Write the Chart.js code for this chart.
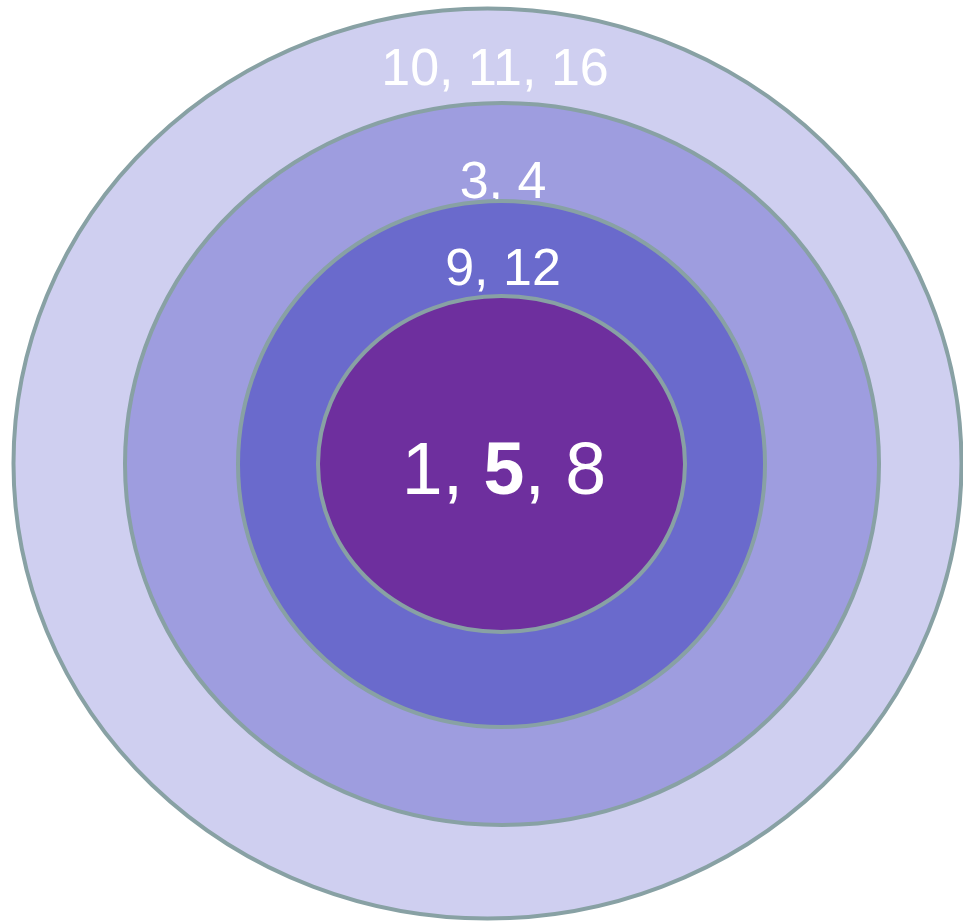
<!DOCTYPE html>
<html>
<head>
<meta charset="utf-8">
<script src="https://cdn.jsdelivr.net/npm/chart.js@4"></script>
<style>
html,body{margin:0;padding:0;background:#fff;}
#wrap{width:963px;height:922px;position:relative;}
</style>
</head>
<body>
<div id="wrap"><canvas id="c" width="963" height="922"></canvas></div>
<script>
// Rings, outermost first
const ringLabels = [["10, 11, 16"], ["3, 4"], ["9, 12"], ["1, ", "5", ", 8"]];
const ringCenterX = [487.5, 502, 501.5, 501.5];
const ringCenterY = [463.5, 464, 464, 464];
const ringRadiusX = [474, 377, 263.5, 183.5];
const ringRadiusY = [455, 361, 263, 168];
const labelX = [495, 503, 503, 504];
const labelY = [85, 198, 285, 494];
const labelBold = [[false], [false], [false], [false, true, false]];
const labelSize = [52, 52, 52, 73.5];
const ringColors = ["#cfcff0", "#9e9ddf", "#6a6acc", "#6e2f9e"];
const strokeColor = "#88a1a4";

const ringPlugin = {
  id: 'rings',
  beforeDatasetsDraw(chart) {
    const ctx = chart.ctx, xs = chart.scales.x, ys = chart.scales.y;
    ctx.save();
    for (let i = 0; i < ringCenterX.length; i++) {
      const cx = xs.getPixelForValue(ringCenterX[i]);
      const cy = ys.getPixelForValue(ringCenterY[i]);
      const rx = Math.abs(xs.getPixelForValue(ringCenterX[i] + ringRadiusX[i]) - cx);
      const ry = Math.abs(ys.getPixelForValue(ringCenterY[i] + ringRadiusY[i]) - cy);
      ctx.beginPath();
      ctx.ellipse(cx, cy, rx, ry, 0, 0, Math.PI * 2);
      ctx.fillStyle = ringColors[i];
      ctx.fill();
      ctx.lineWidth = 4;
      ctx.strokeStyle = strokeColor;
      ctx.stroke();

      // label of this ring (drawn before the next inner ring so it may be overlapped)
      const parts = ringLabels[i];
      const fonts = parts.map((p, j) => (labelBold[i][j] ? 'bold ' : '') + labelSize[i] + 'px "Liberation Sans", Arial, sans-serif');
      let total = 0;
      const widths = parts.map((p, j) => { ctx.font = fonts[j]; const w = ctx.measureText(p).width; total += w; return w; });
      let x = xs.getPixelForValue(labelX[i]) - total / 2;
      const y = ys.getPixelForValue(labelY[i]);
      ctx.fillStyle = '#ffffff';
      ctx.textBaseline = 'alphabetic';
      ctx.textAlign = 'left';
      parts.forEach((p, j) => { ctx.font = fonts[j]; ctx.fillText(p, x, y); x += widths[j]; });
    }
    ctx.restore();
  }
};

new Chart(document.getElementById('c'), {
  type: 'scatter',
  data: {
    datasets: [{
      label: 'rings',
      data: ringCenterX.map((x, i) => ({x: x, y: ringCenterY[i]})),
      pointRadius: 0,
      pointHoverRadius: 0
    }]
  },
  options: {
    responsive: false,
    animation: false,
    devicePixelRatio: 1,
    layout: {padding: 0},
    plugins: {legend: {display: false}, tooltip: {enabled: false}},
    scales: {
      x: {type: 'linear', min: 0, max: 963, display: false},
      y: {type: 'linear', min: 0, max: 922, reverse: true, display: false}
    }
  },
  plugins: [ringPlugin]
});
</script>
</body>
</html>
